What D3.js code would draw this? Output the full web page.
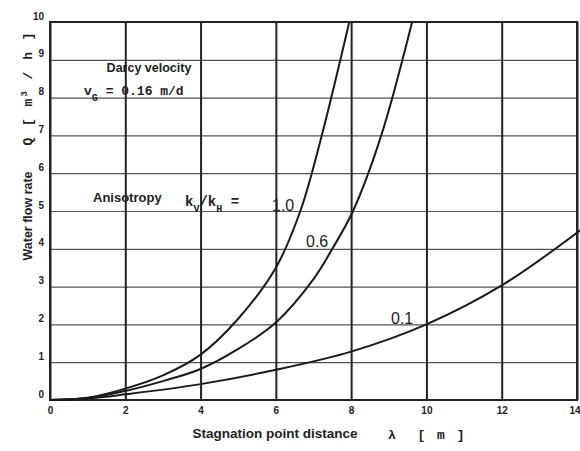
<!DOCTYPE html>
<html>
<head>
<meta charset="utf-8">
<script src="https://cdn.jsdelivr.net/npm/d3@7/dist/d3.min.js"></script>
<style>
  body { margin: 0; background: #fff; }
  svg text { fill: #222; }
</style>
</head>
<body>
<script>
// values
var xTicks = [0, 2, 4, 6, 8, 10, 12, 14];
var yTicks = [0, 1, 2, 3, 4, 5, 6, 7, 8, 9, 10];

// anisotropy kv/kh = 1.0
var lambda10 = [0, 1, 2, 3, 4, 5, 6, 6.65, 7.22, 7.95];
var flow10   = [0, 0.06, 0.3, 0.65, 1.2, 2.15, 3.5, 5, 7, 10];
// kv/kh = 0.6
var lambda06 = [0, 1, 2, 3, 4, 5, 6, 7, 7.5, 8.05, 8.8, 9.62];
var flow06   = [0, 0.05, 0.24, 0.5, 0.82, 1.35, 2.05, 3.2, 4.0, 5, 7, 10];
// kv/kh = 0.1
var lambda01 = [0, 1, 2, 4, 6, 8, 10, 12, 14.1];
var flow01   = [0, 0.04, 0.15, 0.42, 0.8, 1.28, 2.0, 3.03, 4.5];

var width = 580, height = 451;

var x = d3.scaleLinear().domain([0, 14]).range([50, 577]);
var y = d3.scaleLinear().domain([0, 10]).range([400, 22]);

var svg = d3.select('body').append('svg')
            .attr('width', width)
            .attr('height', height);

// horizontal grid (thin)
var yGrid = svg.append('g')
    .attr('transform', 'translate(' + x(0) + ',0)')
    .call(d3.axisLeft(y).tickValues(yTicks).tickSize(-(x(14) - x(0))).tickFormat(''));
yGrid.select('.domain').remove();
yGrid.selectAll('line').attr('stroke', '#555').attr('stroke-width', 1.2);

// vertical grid (thick)
var xGrid = svg.append('g')
    .attr('transform', 'translate(0,' + y(0) + ')')
    .call(d3.axisBottom(x).tickValues(xTicks).tickSize(-(y(0) - y(10))).tickFormat(''));
xGrid.select('.domain').remove();
xGrid.selectAll('line').attr('stroke', '#222').attr('stroke-width', 2);

// frame
svg.append('rect')
    .attr('x', x(0)).attr('y', y(10))
    .attr('width', x(14) - x(0)).attr('height', y(0) - y(10))
    .attr('fill', 'none').attr('stroke', '#222').attr('stroke-width', 2);

// tick labels
var yAxis = svg.append('g')
    .attr('transform', 'translate(' + x(0) + ',0)')
    .call(d3.axisLeft(y).tickValues(yTicks).tickSize(0).tickPadding(6));
yAxis.select('.domain').remove();
yAxis.selectAll('text')
    .attr('dy', '-0.3em')
    .style('font-family', 'Liberation Sans, Arial, sans-serif')
    .style('font-weight', 'bold').style('font-size', '10px');

var xAxis = svg.append('g')
    .attr('transform', 'translate(0,' + y(0) + ')')
    .call(d3.axisBottom(x).tickValues(xTicks).tickSize(0).tickPadding(7));
xAxis.select('.domain').remove();
xAxis.selectAll('text')
    .style('font-family', 'Liberation Sans, Arial, sans-serif')
    .style('font-weight', 'bold').style('font-size', '10px')
    .attr('text-anchor', function(d) { return d === 14 ? 'end' : 'middle'; })
    .attr('x', function(d) { return d === 14 ? 3 : 0; });

// curves
var line = d3.line()
    .x(function(d) { return x(d[0]); })
    .y(function(d) { return y(d[1]); })
    .curve(d3.curveCatmullRom.alpha(0.5));

[[lambda10, flow10], [lambda06, flow06], [lambda01, flow01]].forEach(function(s) {
  svg.append('path')
     .attr('d', line(d3.zip(s[0], s[1])))
     .attr('fill', 'none').attr('stroke', '#1a1a1a').attr('stroke-width', 2);
});

var sans = 'Liberation Sans, Arial, sans-serif';
var mono = 'Liberation Mono, Courier New, monospace';

// annotations
svg.append('text').attr('x', 149).attr('y', 72).attr('text-anchor', 'middle')
   .style('font-family', sans).style('font-weight', 'bold').style('font-size', '12.5px')
   .text('Darcy velocity');

var vg = svg.append('text').attr('x', 84).attr('y', 95)
   .style('font-family', mono).style('font-weight', 'bold').style('font-size', '13px');
vg.append('tspan').text('v');
vg.append('tspan').attr('baseline-shift', 'sub').style('font-size', '10px').text('G');
vg.append('tspan').text(' = 0.16 m/d');

svg.append('text').attr('x', 93).attr('y', 202)
   .style('font-family', sans).style('font-weight', 'bold').style('font-size', '13px')
   .text('Anisotropy');

var kv = svg.append('text').attr('x', 185).attr('y', 206)
   .style('font-family', mono).style('font-weight', 'bold').style('font-size', '14px');
kv.append('tspan').text('k');
kv.append('tspan').attr('baseline-shift', 'sub').style('font-size', '10px').text('V');
kv.append('tspan').text('/k');
kv.append('tspan').attr('baseline-shift', 'sub').style('font-size', '10px').text('H');
kv.append('tspan').text(' =');

svg.append('text').attr('x', 272).attr('y', 211)
   .style('font-family', sans).style('font-size', '16px').text('1.0');
svg.append('text').attr('x', 306).attr('y', 247)
   .style('font-family', sans).style('font-size', '16px').text('0.6');
svg.append('text').attr('x', 391).attr('y', 324)
   .style('font-family', sans).style('font-size', '16px').text('0.1');

// axis titles
svg.append('text').attr('x', 275).attr('y', 438).attr('text-anchor', 'middle')
   .style('font-family', sans).style('font-weight', 'bold').style('font-size', '13.5px')
   .text('Stagnation point distance');
svg.append('text').attr('x', 392).attr('y', 439).attr('text-anchor', 'middle')
   .style('font-family', mono).style('font-weight', 'bold').style('font-size', '13px')
   .text('λ');
svg.append('text').attr('x', 442).attr('y', 439).attr('text-anchor', 'middle')
   .style('font-family', mono).style('font-weight', 'bold').style('font-size', '13px')
   .style('letter-spacing', '2px')
   .text('[ m ]');

svg.append('text').attr('transform', 'translate(32,216) rotate(-90)').attr('text-anchor', 'middle')
   .style('font-family', sans).style('font-weight', 'bold').style('font-size', '12.5px')
   .text('Water flow rate');
var qt = svg.append('text').attr('transform', 'translate(32,88) rotate(-90)').attr('text-anchor', 'middle')
   .style('font-family', mono).style('font-weight', 'bold').style('font-size', '13px')
   .style('letter-spacing', '2px');
qt.append('tspan').text('Q [ m');
qt.append('tspan').attr('baseline-shift', 'super').style('font-size', '9px').text('3');
qt.append('tspan').text(' / h ]');
</script>
</body>
</html>
